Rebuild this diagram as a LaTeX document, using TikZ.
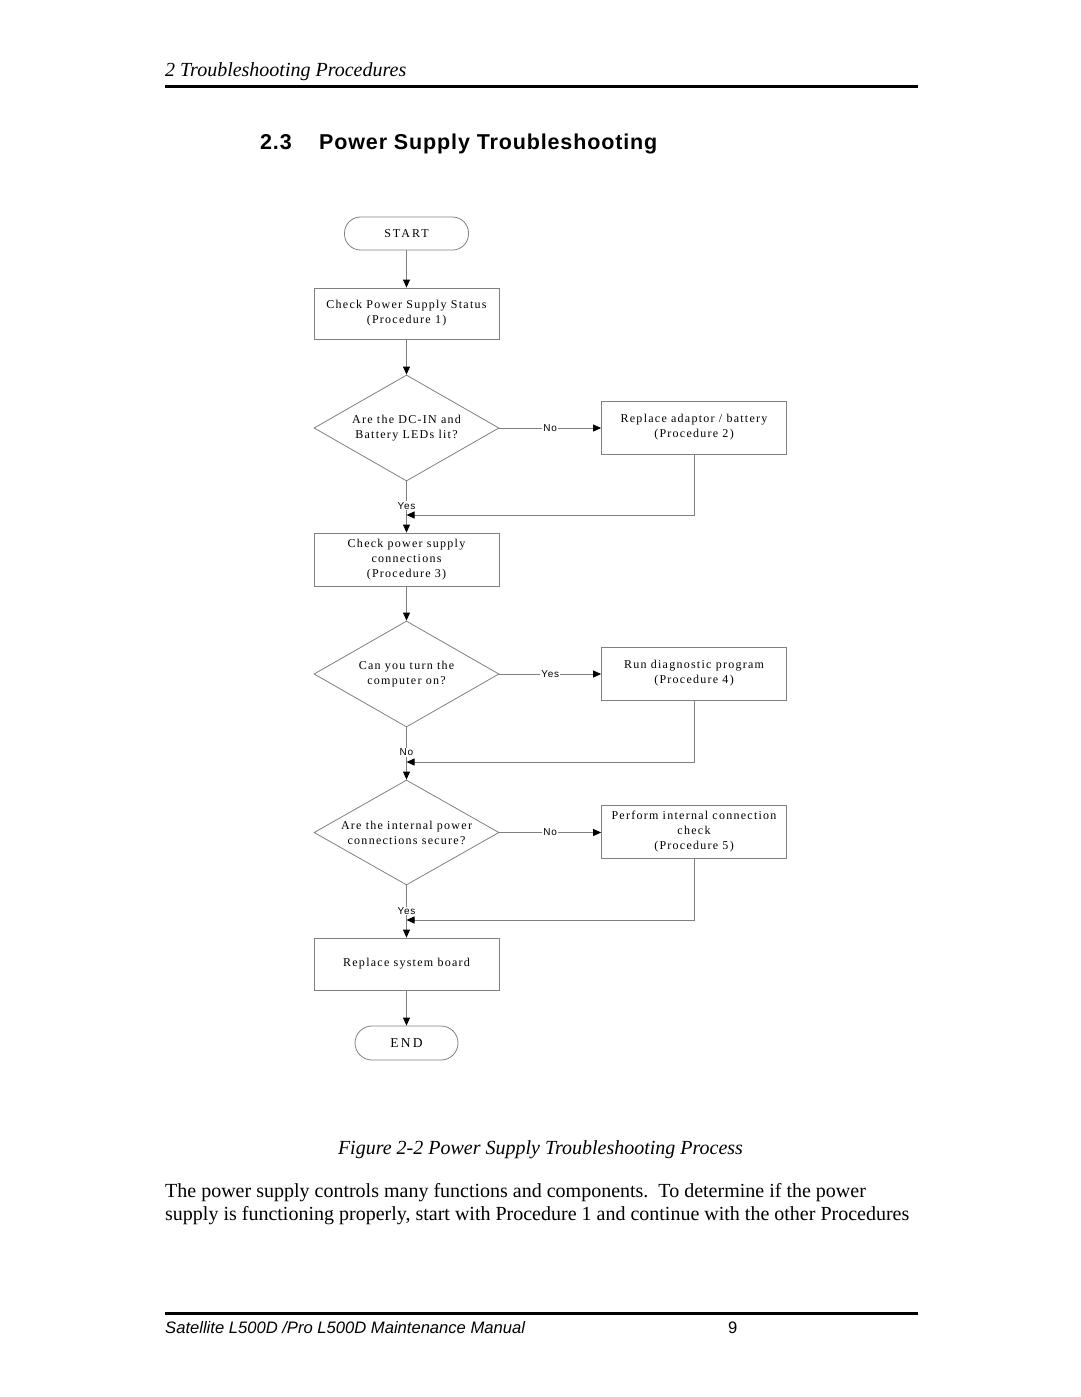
\documentclass[tikz,border=0pt]{standalone}
\usepackage{fontspec}
\setmainfont{Liberation Serif}
\setsansfont{Liberation Sans}
\newfontfamily\boxfnt[LetterSpace=10.5]{Liberation Serif}
\newfontfamily\termfnt[LetterSpace=17]{Liberation Serif}
\newfontfamily\lblfnt[LetterSpace=8]{Liberation Sans}
\newfontfamily\titlefnt[LetterSpace=4]{Liberation Sans}
\usetikzlibrary{shapes.geometric,arrows.meta}
\definecolor{linegray}{RGB}{128,128,128}
\tikzset{
  ln/.style={draw=linegray, line width=0.8pt},
  arr/.style={ln, -{Triangle[length=8pt,width=7pt,color=black]}},
  procbox/.style={draw=linegray, line width=0.8pt, minimum width=185pt, minimum height=52pt,
    align=center, inner sep=0pt, font=\boxfnt\fontsize{12}{15}\selectfont},
  decision/.style={diamond, aspect=1.75, draw=linegray, line width=0.8pt, minimum width=185pt, minimum height=106pt,
    inner sep=0pt, align=center, font=\boxfnt\fontsize{12}{15}\selectfont},
  term/.style={draw=linegray, line width=0.8pt, rounded corners=16pt, inner sep=0pt},
  lbl/.style={fill=white, inner sep=1pt, font=\lblfnt\fontsize{10}{11}\selectfont},
}
\begin{document}
\begin{tikzpicture}[x=1pt,y=-1pt]
\useasboundingbox (0,0) rectangle (1080,1397);
% header
\node[anchor=base west, inner sep=0pt, font=\itshape\fontsize{20}{24}\selectfont] (hdr) at (165,77) {2 Troubleshooting Procedures};
\draw[line width=3pt] (165,86) coordinate (hr1) -- (918,86) coordinate (hr2);
\node[anchor=base west, inner sep=0pt, font=\titlefnt\bfseries\fontsize{21.5}{26}\selectfont] (secnum) at (260,149) {2.3};
\node[anchor=base west, inner sep=0pt, font=\titlefnt\bfseries\fontsize{21.5}{26}\selectfont] (title) at (319,149) {Power Supply Troubleshooting};

% flowchart
\node[term, minimum width=124pt, minimum height=33pt, font=\termfnt\fontsize{12}{14}\selectfont] (start) at (406.5,233.5) {START};
\node[procbox, minimum height=51pt] (b1) at (406.5,313.5) {Check Power Supply Status\\(Procedure 1)};
\node[decision] (d1) at (406.5,428) {Are the DC-IN and\\Battery LEDs lit?};
\node[procbox, minimum height=53pt] (b2) at (694,427.5) {Replace adaptor / battery\\(Procedure 2)};
\coordinate (m1) at (406.5,515);
\node[procbox, minimum height=53pt] (b3) at (406.5,559.5) {Check power supply\\connections\\(Procedure 3)};
\node[decision] (d2) at (406.5,674) {Can you turn the\\computer on?};
\node[procbox, minimum height=53pt] (b4) at (694,673.5) {Run diagnostic program\\(Procedure 4)};
\coordinate (m2) at (406.5,762);
\node[decision, minimum height=105pt] (d3) at (406.5,832.5) {Are the internal power\\connections secure?};
\node[procbox, minimum height=53pt] (b5) at (694,831.5) {Perform internal connection\\check\\(Procedure 5)};
\coordinate (m3) at (406.5,920);
\node[procbox, minimum height=52pt] (b6) at (406.5,964) {Replace system board};
\node[term, minimum width=103pt, minimum height=34pt, rounded corners=17pt, font=\termfnt\fontsize{13.5}{16}\selectfont] (end) at (406.5,1043) {END};

\draw[arr] (start) -- (b1);
\draw[arr] (b1) -- (d1);
\draw[arr] (d1.east) -- node[lbl] {No} (b2.west |- d1.east);
\draw[arr] (d1.south) -- node[lbl, pos=0.48] {Yes} (b3.north);
\draw[arr] (b2.south) |- (m1);
\draw[arr] (b3) -- (d2);
\draw[arr] (d2.east) -- node[lbl] {Yes} (b4.west |- d2.east);
\draw[arr] (d2.south) -- node[lbl, pos=0.48] {No} (d3.north);
\draw[arr] (b4.south) |- (m2);
\draw[arr] (d3.east) -- node[lbl] {No} (b5.west |- d3.east);
\draw[arr] (d3.south) -- node[lbl, pos=0.49] {Yes} (b6.north);
\draw[arr] (b5.south) |- (m3);
\draw[arr] (b6) -- (end);

% caption and text
\node[anchor=base, inner sep=0pt, font=\itshape\fontsize{20}{24}\selectfont] (cap) at (540.5,1154) {Figure 2-2 Power Supply Troubleshooting Process};
\node[anchor=base west, inner sep=0pt, font=\fontsize{20}{24}\selectfont] (p1) at (165,1197) {The power supply controls many functions and components.\ \ To determine if the power};
\node[anchor=base west, inner sep=0pt, font=\fontsize{20}{24}\selectfont] (p2) at (165,1220) {supply is functioning properly, start with Procedure 1 and continue with the other Procedures};

% footer
\draw[line width=3pt] (165,1313) coordinate (fr1) -- (918,1313) coordinate (fr2);
\node[anchor=base west, inner sep=0pt, font=\sffamily\itshape\fontsize{16.6}{19}\selectfont] (foot) at (165,1333) {Satellite L500D /Pro L500D Maintenance Manual};
\node[anchor=base west, inner sep=0pt, font=\sffamily\fontsize{16.6}{19}\selectfont] (pg) at (728,1333) {9};
\end{tikzpicture}
\end{document}
